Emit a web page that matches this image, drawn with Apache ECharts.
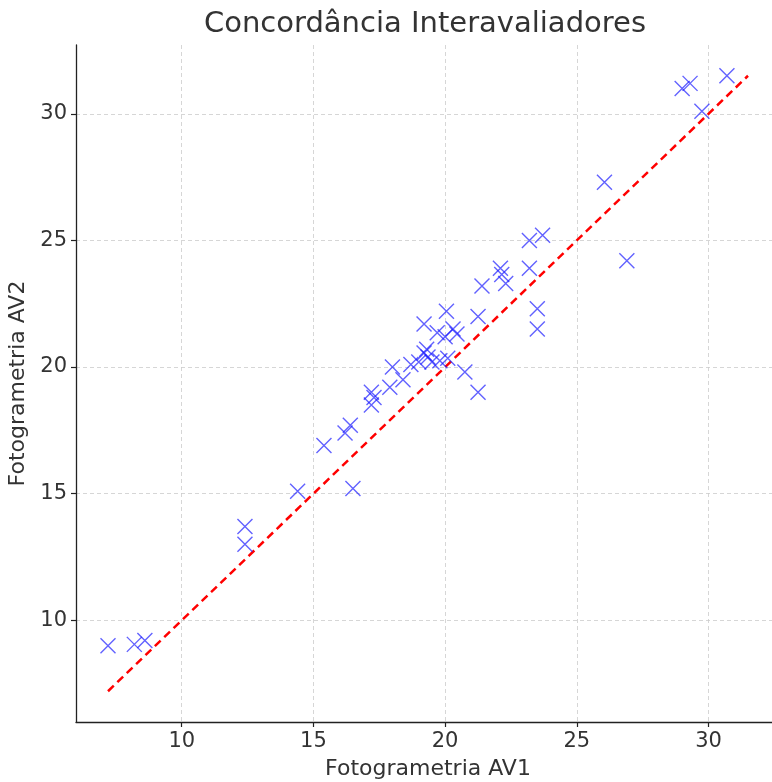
<!DOCTYPE html>
<html>
<head>
<meta charset="utf-8">
<script src="https://cdn.jsdelivr.net/npm/echarts@6/dist/echarts.min.js"></script>
<style>html,body{margin:0;padding:0;background:#fff}#c{width:772px;height:782px}</style>
</head>
<body>
<div id="c"></div>
<script>
const av1 = [7.2,8.2,8.6,12.4,12.4,14.4,16.5,15.4,16.2,16.4,17.2,17.3,17.2,17.9,18.4,18.0,18.7,19.0,19.3,19.2,19.35,19.5,19.8,20.1,20.75,21.25,19.2,19.7,20.05,20.0,20.3,20.45,21.25,21.4,22.1,22.15,22.3,23.2,23.2,23.7,23.5,23.5,26.05,26.9,29.0,29.3,29.75,30.7];
const av2 = [9.0,9.05,9.2,13.7,13.0,15.1,15.2,16.9,17.4,17.7,18.5,18.8,19.0,19.2,19.5,20.0,20.1,20.2,20.7,20.55,20.4,20.2,20.25,20.35,19.8,19.0,21.7,21.35,22.2,21.2,21.5,21.3,22.0,23.2,23.9,23.65,23.3,23.9,25.0,25.2,22.3,21.5,27.3,24.2,31.0,31.2,30.1,31.5];
const tickValues = [10,15,20,25,30];
const titleText = 'Concordância Interavaliadores';
const xName = 'Fotogrametria AV1';
const yName = 'Fotogrametria AV2';

const lo = Math.min(...av1, ...av2);
const hi = Math.max(...av1, ...av2);
const pad = (hi - lo) * 0.05;
const points = av1.map((v, i) => [v, av2[i]]);

const font = 'DejaVu Sans';
const chart = echarts.init(document.getElementById('c'));
const axisCommon = (name, isX) => ({
  type: 'value',
  min: lo - pad,
  max: hi + pad,
  name: name,
  nameLocation: 'middle',
  nameGap: isX ? 36 : 40,
  nameTextStyle: {fontFamily: font, fontSize: 22, color: '#333'},
  axisLine: {show: true, lineStyle: {color: '#222', width: 1.3}},
  axisTick: {show: true, length: 5, inside: false, customValues: tickValues, lineStyle: {color: '#222', width: 1.2}},
  axisLabel: {customValues: tickValues, fontFamily: font, fontSize: 21, color: '#333', margin: 9},
  splitLine: {show: true, lineStyle: {color: '#cccccc', type: [4, 3], width: 0.8}}
});
chart.setOption({
  animation: false,
  backgroundColor: '#fff',
  title: {text: titleText, left: 420, top: 5, textAlign: 'center',
    textStyle: {fontFamily: font, fontSize: 29, fontWeight: 'normal', color: '#333'}},
  grid: {left: 76, top: 45, width: 704, height: 677, containLabel: false, outerBoundsMode: 'none'},
  xAxis: axisCommon(xName, true),
  yAxis: axisCommon(yName, false),
  series: [
    {
      type: 'line',
      data: [[lo, lo], [hi, hi]],
      symbol: 'none',
      lineStyle: {color: '#ff0000', width: 2.5, type: [8, 5]},
      z: 2
    },
    {
      type: 'scatter',
      data: points,
      symbol: 'path://M0,0L10,10M10,0L0,10',
      symbolSize: 15,
      itemStyle: {color: 'none', borderColor: 'rgba(25,25,255,0.85)', borderWidth: 1.4},
      z: 3
    }
  ]
});
</script>
</body>
</html>
